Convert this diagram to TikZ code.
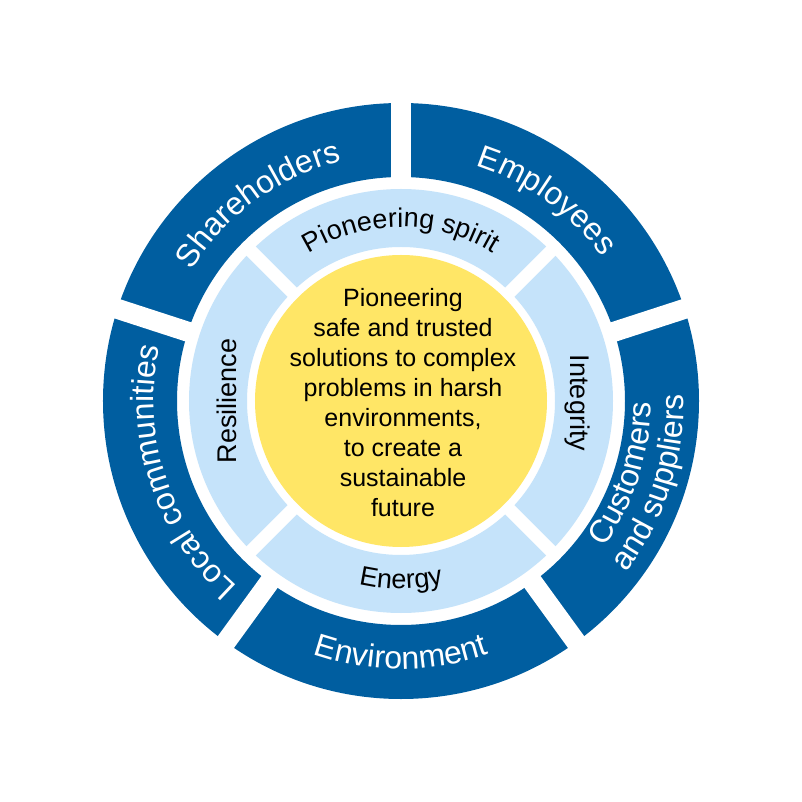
\documentclass[tikz,border=0pt]{standalone}
\usepackage{fontspec}
\setmainfont{Liberation Sans}
\usetikzlibrary{decorations.text}
\definecolor{ringdark}{RGB}{0,94,160}
\definecolor{ringlight}{RGB}{197,227,250}
\definecolor{coreyellow}{RGB}{255,230,102}
\newcommand\outerfont{\fontsize{32}{32}\selectfont}
\newcommand\innerfont{\fontsize{27}{27}\selectfont}
\newcommand\corefont{\fontsize{25}{25}\selectfont}
\tikzset{
  outerlbl/.style={decorate,decoration={text along path,text align=center,text={|\outerfont\color{white}|#1}}},
  innerlbl/.style={decorate,decoration={text along path,text align=center,text={|\innerfont\color{black}|#1}}},
  corelbl/.style={anchor=base,inner sep=0pt,font=\corefont,text=black},
  sidelbl/.style={inner sep=0pt,font=\innerfont,text=black},
  outergap/.style={white,line width=20pt},
  innergap/.style={white,line width=13pt}
}
\begin{document}
\begin{tikzpicture}[x=1pt,y=1pt]
\useasboundingbox[fill=white] (-401pt,-401pt) rectangle (401pt,401pt);
% rings
\fill[ringdark,even odd rule] (0,0) circle (298pt) (0,0) circle (224pt);
\fill[ringlight,even odd rule] (0,0) circle (212pt) (0,0) circle (154pt);
\fill[coreyellow] (0,0) circle (146pt);
\foreach \a in {90,18,-54,-126,162} \draw[outergap] (\a:215pt) -- (\a:305pt);
\foreach \a in {45,135,225,315} \draw[innergap] (\a:150pt) -- (\a:216pt);
% outer labels
\path[outerlbl={Shareholders}] (166:247pt) arc[start angle=166,end angle=86,radius=247pt];
\path[outerlbl={Employees}] (94:247pt) arc[start angle=94,end angle=14,radius=247pt];
\path[outerlbl={Customers}] (-58:250pt) arc[start angle=-58,end angle=22,radius=250pt];
\path[outerlbl={and suppliers}] (-58:283pt) arc[start angle=-58,end angle=22,radius=283pt];
\path[outerlbl={Environment}] (-130:268pt) arc[start angle=-130,end angle=-50,radius=268pt];
\path[outerlbl={Local communities}] (238:247pt) arc[start angle=238,end angle=158,radius=247pt];
% inner labels
\path[innerlbl={Pioneering spirit}] (140:174pt) arc[start angle=140,end angle=40,radius=174pt];
\path[innerlbl={Energy}] (-140:188pt) arc[start angle=-140,end angle=-40,radius=188pt];
\node[sidelbl,rotate=90] (resilience) at (-174pt,0pt) {Resilience};
\node[sidelbl,rotate=-90] (integrity) at (176pt,-2pt) {Integrity};
% core text
\node[corelbl] (c1) at (2pt,94pt) {Pioneering};
\node[corelbl] (c2) at (2pt,64pt) {safe and trusted};
\node[corelbl] (c3) at (2pt,34pt) {solutions to complex};
\node[corelbl] (c4) at (2pt,4pt) {problems in harsh};
\node[corelbl] (c5) at (2pt,-26pt) {environments,};
\node[corelbl] (c6) at (2pt,-56pt) {to create a};
\node[corelbl] (c7) at (2pt,-86pt) {sustainable};
\node[corelbl] (c8) at (2pt,-116pt) {future};
\end{tikzpicture}
\end{document}
